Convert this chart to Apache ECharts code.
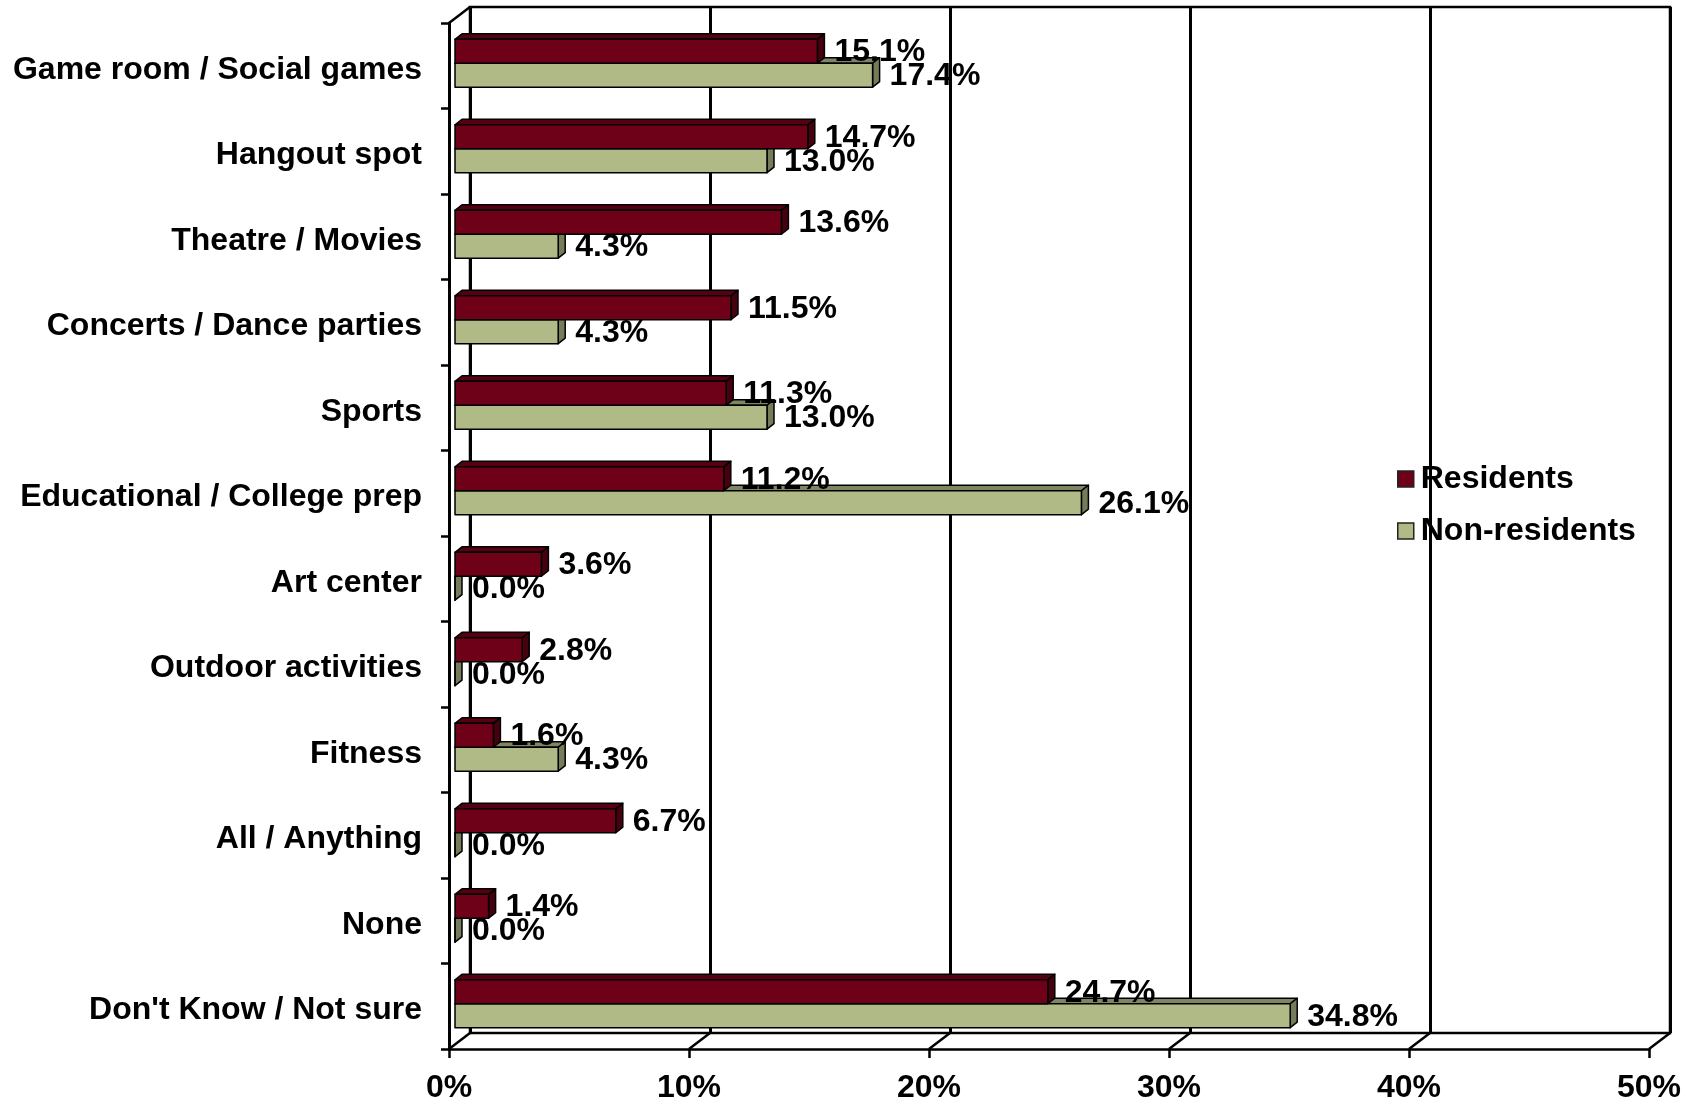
<!DOCTYPE html>
<html>
<head>
<meta charset="utf-8">
<script src="https://cdn.jsdelivr.net/npm/echarts@6/dist/echarts.min.js"></script>
<style>
  html, body { margin: 0; padding: 0; background: #fff; }
  #chart { width: 1696px; height: 1101px; }
</style>
</head>
<body>
<div id="chart"></div>
<script>
// Survey answers: preferred activities, residents vs non-residents (% of respondents)
const categories = [
  'Game room / Social games',
  'Hangout spot',
  'Theatre / Movies',
  'Concerts / Dance parties',
  'Sports',
  'Educational / College prep',
  'Art center',
  'Outdoor activities',
  'Fitness',
  'All / Anything',
  'None',
  "Don't Know / Not sure"
];
const residents    = [15.1, 14.7, 13.6, 11.5, 11.3, 11.2, 3.6, 2.8, 1.6, 6.7, 1.4, 24.7];
const nonResidents = [17.4, 13.0,  4.3,  4.3, 13.0, 26.1, 0.0, 0.0, 4.3, 0.0, 0.0, 34.8];
const xTicks = [0, 10, 20, 30, 40, 50];

const FONT = '"Liberation Sans", Arial, Helvetica, sans-serif';
const WALL_DEPTH = [21, -16];   // offset from the front frame to the back wall
const BAR_SHIFT = [6, -2.5];    // bars sit a little behind the front frame
const BAR_DEPTH = [7, -5.5];    // visible depth of each bar

const RED = { front: '#6E0018', top: '#560012', side: '#46000E' };
const OLIVE = { front: '#B0BA86', top: '#7E8562', side: '#767C5A' };

function barRenderer(colors, slot) {
  return function (params, api) {
    const v = api.value(0);
    const c = api.value(1);
    const start = api.coord([0, c]);
    const end = api.coord([v, c]);
    const band = api.size([0, 1])[1];
    const h = band * 0.28;
    const x0 = start[0] + BAR_SHIFT[0];
    const x1 = end[0] + BAR_SHIFT[0];
    const cy = start[1] + BAR_SHIFT[1];
    const yt = slot === 0 ? cy - h : cy;
    const yb = yt + h;
    const dx = BAR_DEPTH[0], dy = BAR_DEPTH[1];
    const edge = { stroke: '#000', lineWidth: 1.5, lineJoin: 'round' };
    return {
      type: 'group',
      children: [
        { type: 'polygon', z2: 1,
          shape: { points: [[x0, yt], [x1, yt], [x1 + dx, yt + dy], [x0 + dx, yt + dy]] },
          style: Object.assign({ fill: colors.top }, edge) },
        { type: 'polygon', z2: 1,
          shape: { points: [[x1, yt], [x1 + dx, yt + dy], [x1 + dx, yb + dy], [x1, yb]] },
          style: Object.assign({ fill: colors.side }, edge) },
        { type: 'rect', z2: 2,
          shape: { x: x0, y: yt, width: x1 - x0, height: h },
          style: Object.assign({ fill: colors.front }, edge) },
        { type: 'text', z2: 100,
          style: {
            text: v.toFixed(1) + '%',
            x: x1 + 17, y: (yt + yb) / 2 + 1,
            align: 'left', verticalAlign: 'middle',
            fontSize: 32, fontWeight: 'bold', fontFamily: FONT, fill: '#000'
          } }
      ]
    };
  };
}

// Floor diagonals at each tick and the top-left edge of the side wall
function frameRenderer(params, api) {
  const cs = params.coordSys;
  const x = api.coord([api.value(0), 0])[0];
  const yFloor = cs.y + cs.height;
  const st = { stroke: '#000', lineWidth: 2.5 };
  const children = [
    { type: 'line', shape: { x1: x, y1: yFloor, x2: x + WALL_DEPTH[0], y2: yFloor + WALL_DEPTH[1] }, style: st }
  ];
  if (params.dataIndex === 0) {
    children.push({ type: 'line',
      shape: { x1: cs.x, y1: cs.y, x2: cs.x + WALL_DEPTH[0], y2: cs.y + WALL_DEPTH[1] }, style: st });
  }
  return { type: 'group', children: children };
}

const chart = echarts.init(document.getElementById('chart'), null, { renderer: 'canvas' });

const labelFont = { fontSize: 32, fontWeight: 'bold', fontFamily: FONT, color: '#000' };

chart.setOption({
  animation: false,
  backgroundColor: '#fff',
  grid: [
    { // front frame
      left: 449, top: 23, width: 1200, height: 1026,
      containLabel: false, outerBoundsMode: 'none'
    },
    { // back wall
      left: 470, top: 7, width: 1200, height: 1026,
      containLabel: false, outerBoundsMode: 'none',
      show: true, borderColor: '#000', borderWidth: 2.5, backgroundColor: 'transparent'
    }
  ],
  xAxis: [
    {
      gridIndex: 0, type: 'value', min: 0, max: 50, interval: 10,
      axisLine: { show: true, lineStyle: { color: '#000', width: 2.5 } },
      axisTick: { show: true, length: 9, lineStyle: { color: '#000', width: 2.5 } },
      axisLabel: Object.assign({ formatter: '{value}%', margin: 23 }, labelFont),
      splitLine: { show: false }
    },
    {
      gridIndex: 1, type: 'value', min: 0, max: 50, interval: 10,
      axisLine: { show: false },
      axisTick: { show: false },
      axisLabel: { show: false },
      splitLine: { show: true, lineStyle: { color: '#000', width: 3 } }
    }
  ],
  yAxis: [
    {
      gridIndex: 0, type: 'category', data: categories, inverse: true,
      axisLine: { show: true, lineStyle: { color: '#000', width: 3 } },
      axisTick: { show: true, length: 8, lineStyle: { color: '#000', width: 2.5 } },
      axisLabel: Object.assign({ interval: 0, margin: 27, verticalAlign: 'top', lineHeight: 8 }, labelFont),
      splitLine: { show: false }
    },
    {
      gridIndex: 1, type: 'value', min: 0, max: 1, show: false
    }
  ],
  legend: {
    data: ['Residents', 'Non-residents'],
    orient: 'vertical',
    left: 1397, top: 463,
    padding: 0,
    itemWidth: 16, itemHeight: 16, itemGap: 20,
    icon: 'rect',
    selectedMode: false,
    itemStyle: { borderColor: '#222', borderWidth: 1.5 },
    textStyle: { fontSize: 32, fontWeight: 'bold', fontFamily: FONT, color: '#000', padding: [4, 0, 0, 2] }
  },
  series: [
    {
      name: 'frame', type: 'custom', xAxisIndex: 0, yAxisIndex: 0,
      renderItem: frameRenderer, silent: true,
      data: xTicks.map(t => [t, 0])
    },
    {
      name: 'Non-residents', type: 'custom', xAxisIndex: 0, yAxisIndex: 0,
      itemStyle: { color: OLIVE.front },
      renderItem: barRenderer(OLIVE, 1),
      data: nonResidents.map((v, i) => [v, i])
    },
    {
      name: 'Residents', type: 'custom', xAxisIndex: 0, yAxisIndex: 0,
      itemStyle: { color: RED.front },
      renderItem: barRenderer(RED, 0),
      data: residents.map((v, i) => [v, i])
    }
  ]
});
</script>
</body>
</html>
